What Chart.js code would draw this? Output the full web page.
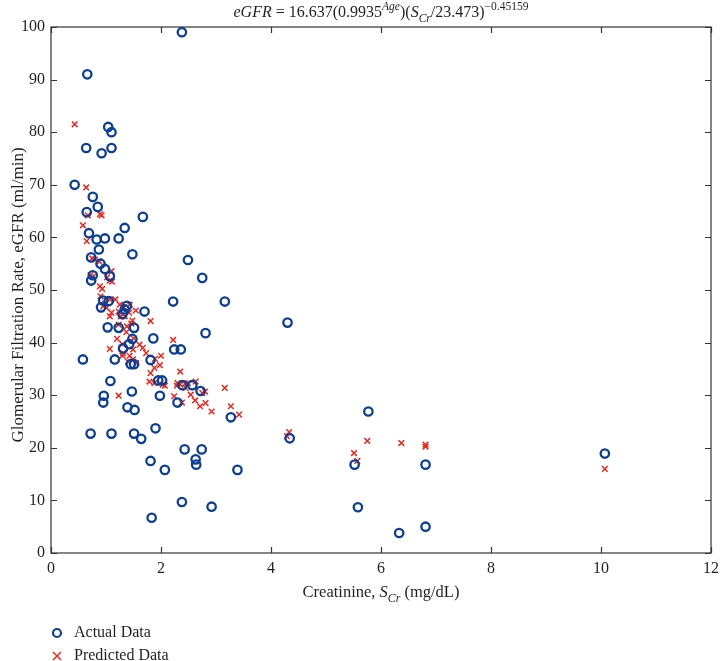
<!DOCTYPE html>
<html>
<head>
<meta charset="utf-8">
<script src="https://cdn.jsdelivr.net/npm/chart.js@4.4.1/dist/chart.umd.min.js"></script>
<style>
  html, body { margin: 0; padding: 0; background: #fff; }
  #wrap { width: 725px; height: 661px; }
</style>
</head>
<body>
<div id="wrap"><canvas id="c" width="725" height="661"></canvas></div>
<script>
// Creatinine (mg/dL) vs eGFR (ml/min)
const actualX = [2.38, 0.66, 1.04, 1.10, 0.64, 0.92, 1.10, 0.43, 0.76, 0.85, 0.65, 1.67, 1.34, 0.69, 0.83,
  0.98, 1.23, 0.87, 1.48, 2.49, 0.73, 0.90, 0.98, 1.07, 0.76, 0.73, 2.75, 2.22, 3.16, 0.95,
  1.05, 0.91, 1.38, 1.34, 1.30, 1.70, 1.03, 1.23, 1.51, 1.48, 1.86, 1.42, 1.31, 2.24, 2.36,
  2.81, 4.30, 0.58, 1.16, 1.45, 1.51, 1.81, 1.95, 2.02, 1.08, 1.47, 0.96, 1.98, 2.39, 2.57,
  2.72, 0.95, 2.30, 1.39, 1.52, 3.27, 0.72, 1.10, 1.51, 1.64, 1.90, 2.43, 2.74, 2.63, 2.64,
  1.81, 2.07, 3.39, 2.38, 2.92, 1.83, 4.34, 5.77, 5.52, 5.58, 6.33, 6.81, 6.81, 10.07];
const actualY = [99, 91, 81, 80, 77, 76, 77, 70, 67.7, 65.8, 64.8, 63.9, 61.8, 60.8, 59.6,
  59.8, 59.8, 57.7, 56.8, 55.7, 56.2, 55, 54, 52.6, 52.8, 51.8, 52.3, 47.8, 47.8, 48,
  47.9, 46.7, 47, 46.3, 45.4, 45.9, 42.9, 42.8, 42.8, 40.7, 40.8, 39.7, 38.9, 38.7, 38.7,
  41.8, 43.8, 36.8, 36.8, 35.9, 35.9, 36.7, 32.8, 32.8, 32.7, 30.7, 29.9, 29.9, 31.9, 31.9,
  30.8, 28.6, 28.6, 27.7, 27.2, 25.8, 22.7, 22.7, 22.7, 21.7, 23.7, 19.7, 19.7, 17.8, 16.8,
  17.5, 15.8, 15.8, 9.7, 8.8, 6.7, 21.8, 26.9, 16.8, 8.7, 3.8, 16.8, 5.0, 18.9];

const predictedX = [0.43, 0.64, 0.67, 0.89, 0.92, 0.58, 0.65, 0.75, 0.80, 0.88, 1.10, 0.72, 0.76, 1.02, 1.07,
  1.11, 0.89, 0.93, 0.90, 1.07, 1.17, 1.25, 0.98, 1.43, 0.95, 1.01, 1.10, 1.07, 1.23, 1.33,
  1.42, 1.54, 1.27, 1.34, 1.48, 1.81, 1.23, 1.38, 1.46, 1.37, 1.20, 1.50, 1.30, 1.31, 1.07,
  1.61, 1.67, 1.49, 1.73, 2.00, 1.30, 1.43, 1.49, 1.55, 1.40, 1.89, 1.81, 1.88, 1.98, 1.79,
  1.88, 2.03, 2.35, 2.30, 2.35, 2.49, 2.63, 2.75, 2.80, 2.45, 2.24, 3.16, 1.23, 2.07, 2.29,
  2.38, 2.44, 2.54, 2.62, 2.71, 2.81, 2.92, 3.27, 3.42, 4.33, 4.29, 5.75, 5.51, 5.57, 6.37,
  6.81, 6.81, 10.07, 2.22];
const predictedY = [81.5, 69.5, 64.2, 64.4, 64.2, 62.3, 59.3, 56, 55.8, 55.4, 53.6, 52.8, 52.5, 52.4, 51.8,
  51.6, 50.7, 50.2, 48.8, 48.2, 48.2, 47.2, 47.4, 47.2, 46.9, 46.6, 45.7, 45, 45.9, 46.7,
  45.7, 46.1, 45, 45, 44.2, 44.1, 43.4, 43.1, 43.6, 42, 40.7, 40.8, 39.7, 38, 38.8,
  39.6, 39, 38.7, 38, 37.5, 37.5, 37.5, 36.8, 36.1, 36.4, 36.9, 34.2, 35.2, 35.7, 32.6,
  32.3, 32, 34.5, 32.3, 32, 32.3, 32.6, 30.4, 30.7, 31.4, 29.8, 31.4, 29.9, 31.8, 31.8,
  28.6, 32.2, 30.1, 29, 27.9, 28.5, 26.9, 27.9, 26.3, 23, 22.2, 21.3, 19, 17.5, 20.9,
  20.6, 20.2, 16, 40.5];

const xTicks = [0, 2, 4, 6, 8, 10, 12];
const yTicks = [0, 10, 20, 30, 40, 50, 60, 70, 80, 90, 100];

const BLUE = '#0b3f94';
const RED = '#e8281e';
const INK = '#231f20';
const SERIF = '"Liberation Serif", "DejaVu Serif", serif';

const toPoints = (xs, ys) => xs.map((x, i) => ({ x, y: ys[i] }));

// draws a run of text with sub/superscript pieces, centred on cx
function richText(ctx, parts, cx, cy, size) {
  const fontFor = p => {
    const s = p.k === 'n' ? size : size * 0.72;
    return (p.i ? 'italic ' : '') + s + 'px ' + SERIF;
  };
  let total = 0;
  parts.forEach(p => { ctx.font = fontFor(p); total += ctx.measureText(p.t).width; });
  let x = cx - total / 2;
  ctx.textAlign = 'left';
  ctx.textBaseline = 'alphabetic';
  parts.forEach(p => {
    ctx.font = fontFor(p);
    const dy = p.k === 'sub' ? size * 0.3 : p.k === 'sup' ? -size * 0.42 : 0;
    ctx.fillText(p.t, x, cy + dy);
    x += ctx.measureText(p.t).width;
  });
}

const decorations = {
  id: 'decorations',
  afterDraw(chart) {
    const { ctx, chartArea: a, scales: { x, y } } = chart;
    ctx.save();
    // box + inward ticks
    ctx.strokeStyle = '#333';
    ctx.lineWidth = 1.2;
    ctx.strokeRect(a.left, a.top, a.right - a.left, a.bottom - a.top);
    ctx.beginPath();
    xTicks.forEach(v => {
      const px = Math.round(x.getPixelForValue(v)) + 0.5;
      ctx.moveTo(px, a.bottom); ctx.lineTo(px, a.bottom - 6);
      ctx.moveTo(px, a.top); ctx.lineTo(px, a.top + 6);
    });
    yTicks.forEach(v => {
      const py = Math.round(y.getPixelForValue(v)) + 0.5;
      ctx.moveTo(a.left, py); ctx.lineTo(a.left + 6, py);
      ctx.moveTo(a.right, py); ctx.lineTo(a.right - 6, py);
    });
    ctx.stroke();

    ctx.fillStyle = INK;
    const cx = (a.left + a.right) / 2;
    // formula title
    richText(ctx, [
      { t: 'eGFR', k: 'n', i: true },
      { t: ' = 16.637(0.9935', k: 'n' },
      { t: 'Age', k: 'sup', i: true },
      { t: ')(', k: 'n' },
      { t: 'S', k: 'n', i: true },
      { t: 'Cr', k: 'sub', i: true },
      { t: '/23.473)', k: 'n' },
      { t: '\u22120.45159', k: 'sup' }
    ], cx, 17, 16);

    // x axis title
    richText(ctx, [
      { t: 'Creatinine, ', k: 'n' },
      { t: 'S', k: 'n', i: true },
      { t: 'Cr', k: 'sub', i: true },
      { t: ' (mg/dL)', k: 'n' }
    ], cx, 597, 16.5);

    // y axis title
    ctx.save();
    ctx.translate(19, (a.top + a.bottom) / 2 + 5);
    ctx.rotate(-Math.PI / 2);
    ctx.font = '17px ' + SERIF;
    ctx.textAlign = 'center';
    ctx.textBaseline = 'middle';
    ctx.fillText('Glomerular Filtration Rate, eGFR (ml/min)', 0, 0);
    ctx.restore();

    // legend
    ctx.lineWidth = 2.2;
    ctx.strokeStyle = BLUE;
    ctx.beginPath();
    ctx.arc(57, 633, 4, 0, Math.PI * 2);
    ctx.stroke();
    ctx.strokeStyle = RED;
    ctx.lineWidth = 1.5;
    ctx.beginPath();
    ctx.moveTo(53, 652); ctx.lineTo(61, 660);
    ctx.moveTo(61, 652); ctx.lineTo(53, 660);
    ctx.stroke();
    ctx.fillStyle = INK;
    ctx.font = '16px ' + SERIF;
    ctx.textAlign = 'left';
    ctx.textBaseline = 'middle';
    ctx.fillText('Actual Data', 74, 633);
    ctx.fillText('Predicted Data', 74, 656);
    ctx.restore();
  }
};

new Chart(document.getElementById('c'), {
  type: 'scatter',
  data: {
    datasets: [
      {
        label: 'Actual Data',
        data: toPoints(actualX, actualY),
        pointStyle: 'circle',
        pointRadius: 4.2,
        pointBorderWidth: 2.3,
        borderColor: BLUE,
        backgroundColor: 'rgba(0,0,0,0)'
      },
      {
        label: 'Predicted Data',
        data: toPoints(predictedX, predictedY),
        pointStyle: 'crossRot',
        pointRadius: 4,
        pointBorderWidth: 1.5,
        borderColor: RED,
        backgroundColor: RED
      }
    ]
  },
  options: {
    responsive: false,
    animation: false,
    layout: { padding: { left: 0, top: 27, right: 10, bottom: 0 } },
    plugins: {
      legend: { display: false },
      tooltip: { enabled: false }
    },
    scales: {
      x: {
        type: 'linear',
        min: 0, max: 12,
        afterBuildTicks: s => { s.ticks = xTicks.map(v => ({ value: v })); },
        afterFit: s => { s.height = 108; },
        grid: { display: false, drawTicks: false },
        border: { display: false },
        ticks: { color: INK, padding: 6, font: { family: SERIF, size: 16 } }
      },
      y: {
        type: 'linear',
        min: 0, max: 100,
        afterBuildTicks: s => { s.ticks = yTicks.map(v => ({ value: v })); },
        afterFit: s => { s.width = 51; },
        grid: { display: false, drawTicks: false },
        border: { display: false },
        ticks: { color: INK, padding: 6, font: { family: SERIF, size: 16 } }
      }
    }
  },
  plugins: [decorations]
});
</script>
</body>
</html>
